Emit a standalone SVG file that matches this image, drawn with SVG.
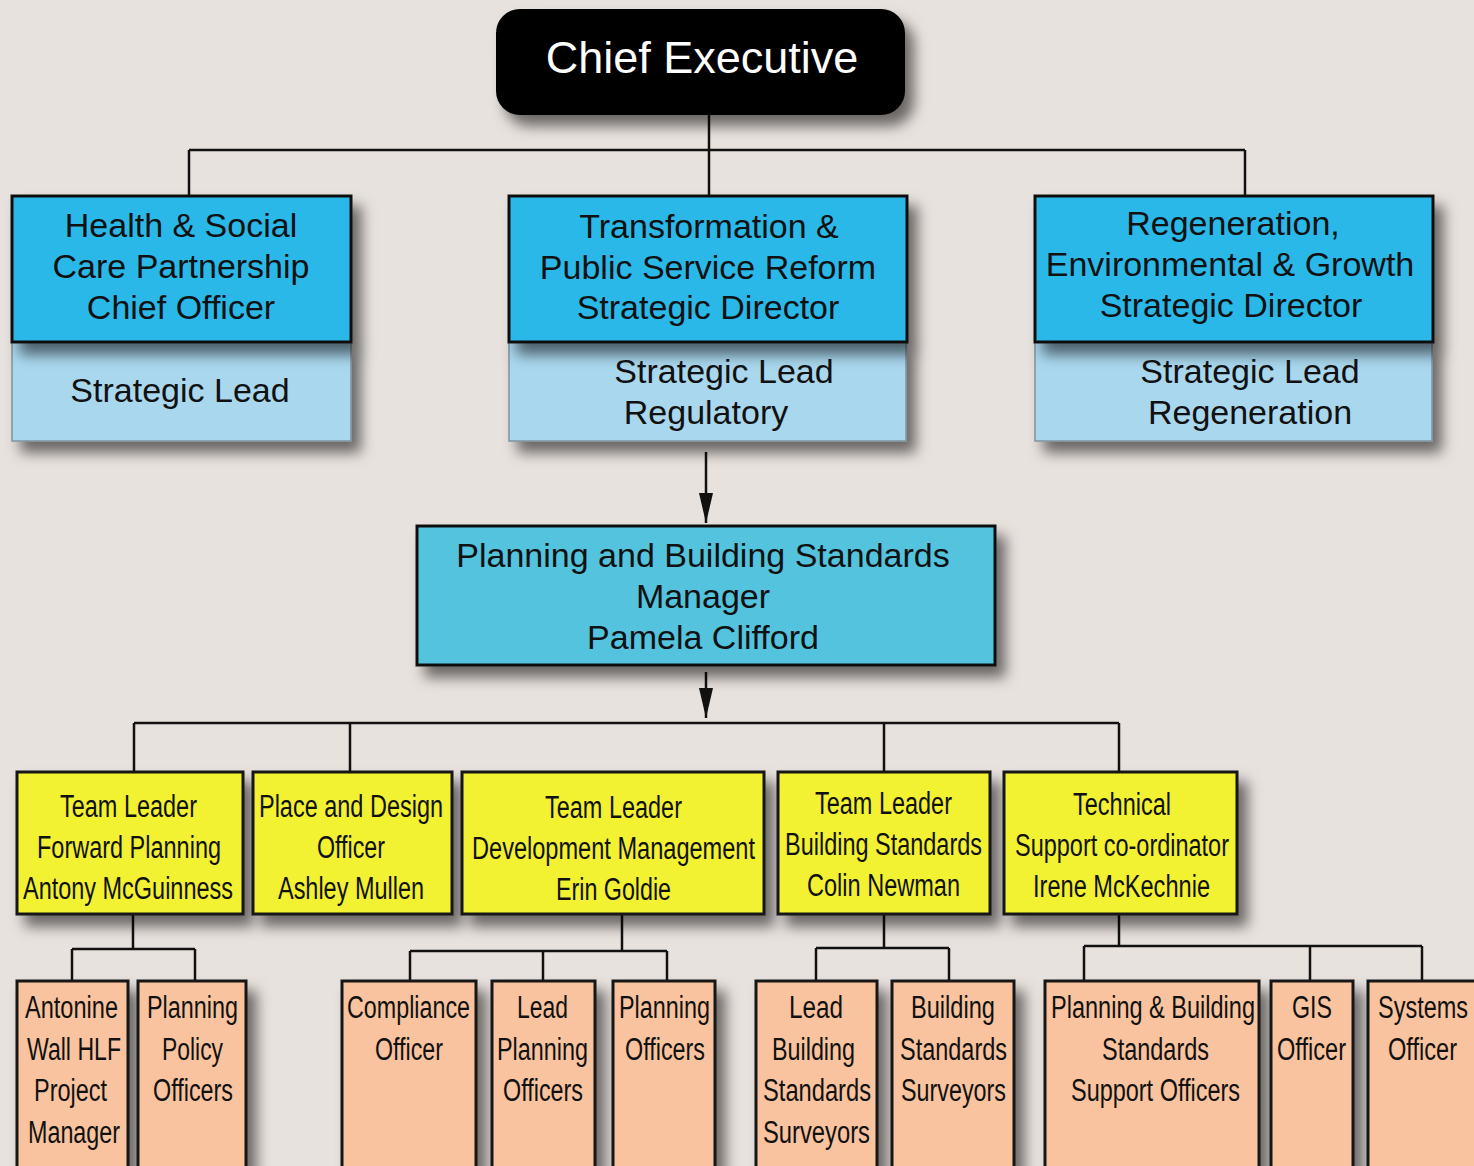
<svg xmlns="http://www.w3.org/2000/svg" width="1474" height="1166" viewBox="0 0 1474 1166">
<defs>
<filter id="sh" x="-20%" y="-20%" width="150%" height="160%">
<feDropShadow dx="9" dy="11" stdDeviation="7" flood-color="#000" flood-opacity="0.55"/>
</filter>
<marker id="ah" viewBox="0 0 30 14" refX="30" refY="7" markerWidth="30" markerHeight="14" markerUnits="userSpaceOnUse" orient="auto">
<path d="M0,0 L30,7 L0,14 Z" fill="#111"/>
</marker>
</defs>
<style>
.bg{fill:#e8e2de}
.blue{fill:#2bb8e9;stroke:#111;stroke-width:3}
.lb{fill:#a9d7ee;stroke:#7f939e;stroke-width:1.5}
.mgr{fill:#52c3de;stroke:#111;stroke-width:3}
.yel{fill:#f2f132;stroke:#161616;stroke-width:3}
.org{fill:#f8c39e;stroke:#161616;stroke-width:3}
.ce{fill:#000}
.t{font-family:"Liberation Sans",Arial,sans-serif;font-size:34px;fill:#111;text-anchor:middle}
.tw{font-family:"Liberation Sans",Arial,sans-serif;font-size:45px;fill:#fff;text-anchor:middle}
.n{font-family:"Liberation Sans",Arial,sans-serif;font-size:31px;fill:#111}
.c{fill:none;stroke:#111;stroke-width:2.5}
</style>
<rect class="bg" x="0" y="0" width="1474" height="1166"/>

<g id="connectors">
<path class="c" d="M709,115 V150 M189,150 H1245 M189,150 V196 M709,150 V196 M1245,150 V196"/>
<line class="c" x1="706" y1="452" x2="706" y2="523" marker-end="url(#ah)"/>
<line class="c" x1="706" y1="672" x2="706" y2="718" marker-end="url(#ah)"/>
<path class="c" d="M134,723 H1119 M134,723 V772 M350,723 V772 M884,723 V772 M1119,723 V772"/>
<path class="c" d="M133,915 V949 M72,949 H195 M72,949 V981 M195,949 V981"/>
<path class="c" d="M622,915 V951 M410,951 H667 M410,951 V981 M543,951 V981 M667,951 V981"/>
<path class="c" d="M884,915 V948 M816,948 H949 M816,948 V981 M949,948 V981"/>
<path class="c" d="M1119,915 V946 M1084,946 H1422 M1084,946 V981 M1310,946 V981 M1422,946 V981"/>
</g>

<g id="chief-executive">
<rect class="ce" x="496" y="9" width="409" height="106" rx="24" filter="url(#sh)"/>
<text class="tw" x="702" y="73">Chief Executive</text>
</g>

<g id="health-social-care">
<rect class="lb" x="12" y="342" width="339" height="99" filter="url(#sh)"/>
<rect class="blue" x="12" y="196" width="339" height="146" filter="url(#sh)"/>
<text class="t" x="181" y="237">Health &amp; Social</text>
<text class="t" x="181" y="278">Care Partnership</text>
<text class="t" x="181" y="319">Chief Officer</text>
<text class="t" x="180" y="402">Strategic Lead</text>
</g>

<g id="transformation">
<rect class="lb" x="509" y="342" width="397" height="99" filter="url(#sh)"/>
<rect class="blue" x="509" y="196" width="398" height="146" filter="url(#sh)"/>
<text class="t" x="709" y="238">Transformation &amp;</text>
<text class="t" x="708" y="279">Public Service Reform</text>
<text class="t" x="708" y="319">Strategic Director</text>
<text class="t" x="724" y="383">Strategic Lead</text>
<text class="t" x="706" y="424">Regulatory</text>
</g>

<g id="regeneration">
<rect class="lb" x="1035" y="342" width="397" height="99" filter="url(#sh)"/>
<rect class="blue" x="1035" y="196" width="398" height="146" filter="url(#sh)"/>
<text class="t" x="1233" y="235">Regeneration,</text>
<text class="t" x="1230" y="276">Environmental &amp; Growth</text>
<text class="t" x="1231" y="317">Strategic Director</text>
<text class="t" x="1250" y="383">Strategic Lead</text>
<text class="t" x="1250" y="424">Regeneration</text>
</g>

<g id="pbs-manager">
<rect class="mgr" x="417" y="526" width="578" height="139" filter="url(#sh)"/>
<text class="t" x="703" y="567">Planning and Building Standards</text>
<text class="t" x="703" y="608">Manager</text>
<text class="t" x="703" y="649">Pamela Clifford</text>
</g>

<g id="tl-forward-planning">
<rect class="yel" x="17" y="772" width="226" height="142" filter="url(#sh)"/>
<text class="n" x="60" y="817" textLength="137" lengthAdjust="spacingAndGlyphs">Team Leader</text>
<text class="n" x="37" y="858" textLength="184" lengthAdjust="spacingAndGlyphs">Forward Planning</text>
<text class="n" x="23" y="899" textLength="210" lengthAdjust="spacingAndGlyphs">Antony McGuinness</text>
</g>

<g id="place-design">
<rect class="yel" x="253" y="772" width="199" height="142" filter="url(#sh)"/>
<text class="n" x="259" y="817" textLength="184" lengthAdjust="spacingAndGlyphs">Place and Design</text>
<text class="n" x="317" y="858" textLength="68" lengthAdjust="spacingAndGlyphs">Officer</text>
<text class="n" x="278" y="899" textLength="146" lengthAdjust="spacingAndGlyphs">Ashley Mullen</text>
</g>

<g id="tl-development-management">
<rect class="yel" x="462" y="772" width="302" height="142" filter="url(#sh)"/>
<text class="n" x="545" y="818" textLength="137" lengthAdjust="spacingAndGlyphs">Team Leader</text>
<text class="n" x="472" y="859" textLength="283" lengthAdjust="spacingAndGlyphs">Development Management</text>
<text class="n" x="556" y="900" textLength="115" lengthAdjust="spacingAndGlyphs">Erin Goldie</text>
</g>

<g id="tl-building-standards">
<rect class="yel" x="778" y="772" width="212" height="142" filter="url(#sh)"/>
<text class="n" x="815" y="814" textLength="137" lengthAdjust="spacingAndGlyphs">Team Leader</text>
<text class="n" x="785" y="855" textLength="197" lengthAdjust="spacingAndGlyphs">Building Standards</text>
<text class="n" x="807" y="896" textLength="153" lengthAdjust="spacingAndGlyphs">Colin Newman</text>
</g>

<g id="technical-support">
<rect class="yel" x="1004" y="772" width="233" height="142" filter="url(#sh)"/>
<text class="n" x="1073" y="815" textLength="98" lengthAdjust="spacingAndGlyphs">Technical</text>
<text class="n" x="1015" y="856" textLength="214" lengthAdjust="spacingAndGlyphs">Support co-ordinator</text>
<text class="n" x="1033" y="897" textLength="177" lengthAdjust="spacingAndGlyphs">Irene McKechnie</text>
</g>

<g id="antonine-wall">
<rect class="org" x="17" y="981" width="111" height="200" filter="url(#sh)"/>
<text class="n" x="25" y="1018" textLength="93" lengthAdjust="spacingAndGlyphs">Antonine</text>
<text class="n" x="27" y="1060" textLength="94" lengthAdjust="spacingAndGlyphs">Wall HLF</text>
<text class="n" x="34" y="1101" textLength="73" lengthAdjust="spacingAndGlyphs">Project</text>
<text class="n" x="28" y="1143" textLength="92" lengthAdjust="spacingAndGlyphs">Manager</text>
</g>

<g id="planning-policy">
<rect class="org" x="138" y="981" width="108" height="200" filter="url(#sh)"/>
<text class="n" x="147" y="1018" textLength="91" lengthAdjust="spacingAndGlyphs">Planning</text>
<text class="n" x="162" y="1060" textLength="61" lengthAdjust="spacingAndGlyphs">Policy</text>
<text class="n" x="153" y="1101" textLength="80" lengthAdjust="spacingAndGlyphs">Officers</text>
</g>

<g id="compliance">
<rect class="org" x="342" y="981" width="134" height="200" filter="url(#sh)"/>
<text class="n" x="347" y="1018" textLength="123" lengthAdjust="spacingAndGlyphs">Compliance</text>
<text class="n" x="375" y="1060" textLength="68" lengthAdjust="spacingAndGlyphs">Officer</text>
</g>

<g id="lead-planning">
<rect class="org" x="492" y="981" width="103" height="200" filter="url(#sh)"/>
<text class="n" x="517" y="1018" textLength="51" lengthAdjust="spacingAndGlyphs">Lead</text>
<text class="n" x="497" y="1060" textLength="91" lengthAdjust="spacingAndGlyphs">Planning</text>
<text class="n" x="503" y="1101" textLength="80" lengthAdjust="spacingAndGlyphs">Officers</text>
</g>

<g id="planning-officers">
<rect class="org" x="613" y="981" width="102" height="200" filter="url(#sh)"/>
<text class="n" x="619" y="1018" textLength="91" lengthAdjust="spacingAndGlyphs">Planning</text>
<text class="n" x="625" y="1060" textLength="80" lengthAdjust="spacingAndGlyphs">Officers</text>
</g>

<g id="lead-bs-surveyors">
<rect class="org" x="756" y="981" width="121" height="200" filter="url(#sh)"/>
<text class="n" x="789" y="1018" textLength="54" lengthAdjust="spacingAndGlyphs">Lead</text>
<text class="n" x="772" y="1060" textLength="83" lengthAdjust="spacingAndGlyphs">Building</text>
<text class="n" x="763" y="1101" textLength="108" lengthAdjust="spacingAndGlyphs">Standards</text>
<text class="n" x="763" y="1143" textLength="107" lengthAdjust="spacingAndGlyphs">Surveyors</text>
</g>

<g id="bs-surveyors">
<rect class="org" x="892" y="981" width="122" height="200" filter="url(#sh)"/>
<text class="n" x="911" y="1018" textLength="84" lengthAdjust="spacingAndGlyphs">Building</text>
<text class="n" x="900" y="1060" textLength="107" lengthAdjust="spacingAndGlyphs">Standards</text>
<text class="n" x="901" y="1101" textLength="105" lengthAdjust="spacingAndGlyphs">Surveyors</text>
</g>

<g id="pbs-support">
<rect class="org" x="1045" y="981" width="214" height="200" filter="url(#sh)"/>
<text class="n" x="1051" y="1018" textLength="204" lengthAdjust="spacingAndGlyphs">Planning &amp; Building</text>
<text class="n" x="1102" y="1060" textLength="107" lengthAdjust="spacingAndGlyphs">Standards</text>
<text class="n" x="1071" y="1101" textLength="169" lengthAdjust="spacingAndGlyphs">Support Officers</text>
</g>

<g id="gis-officer">
<rect class="org" x="1271" y="981" width="82" height="200" filter="url(#sh)"/>
<text class="n" x="1292" y="1018" textLength="40" lengthAdjust="spacingAndGlyphs">GIS</text>
<text class="n" x="1277" y="1060" textLength="69" lengthAdjust="spacingAndGlyphs">Officer</text>
</g>

<g id="systems-officer">
<rect class="org" x="1368" y="981" width="112" height="200" filter="url(#sh)"/>
<text class="n" x="1378" y="1018" textLength="90" lengthAdjust="spacingAndGlyphs">Systems</text>
<text class="n" x="1388" y="1060" textLength="69" lengthAdjust="spacingAndGlyphs">Officer</text>
</g>
</svg>
